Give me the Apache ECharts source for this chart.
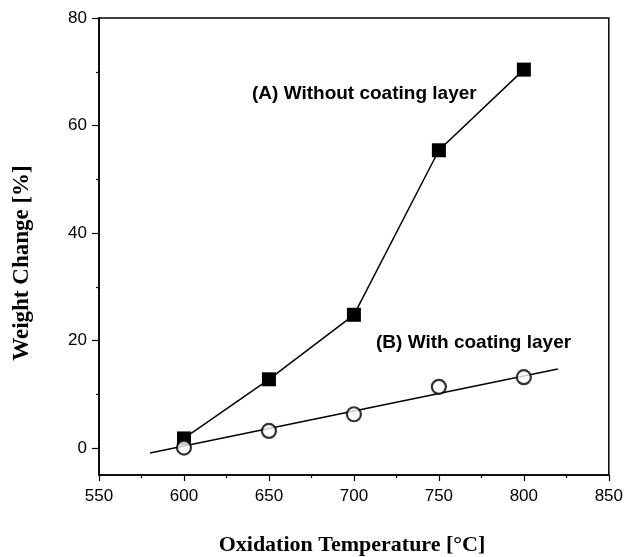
<!DOCTYPE html>
<html>
<head>
<meta charset="utf-8">
<script src="https://cdn.jsdelivr.net/npm/echarts@6/dist/echarts.min.js"></script>
<style>
  html, body { margin: 0; padding: 0; background: #fff; }
  #main { width: 626px; height: 557px; }
</style>
</head>
<body>
<div id="main"></div>
<script>
// oxidation temperatures (°C)
var temps = [600, 650, 700, 750, 800];
// (A) without coating layer, weight change %
var withoutCoating = [1.8, 12.8, 24.8, 55.4, 70.4];
// (B) with coating layer, weight change %
var withCoating = [0.1, 3.2, 6.3, 11.4, 13.2];
// linear fit through (B)
var fitX = [580, 820];
var fitY = [-0.9, 14.7];
var yMajor = [0, 20, 40, 60, 80];
var yMinor = [10, 30, 50, 70];

function pairs(xs, ys) {
    return xs.map(function (x, i) { return [x, ys[i]]; });
}

var chart = echarts.init(document.getElementById('main'));

var labelFont = { color: '#000', fontFamily: 'Liberation Sans, Arial, sans-serif', fontSize: 17 };

var option = {
    animation: false,
    backgroundColor: '#fff',
    grid: {
        left: 99, top: 18, right: 16, bottom: 82,
        show: true, borderColor: '#000', borderWidth: 1.5
    },
    xAxis: {
        type: 'value',
        min: 550, max: 850, interval: 50,
        axisLine: { show: true, onZero: false, lineStyle: { color: '#000', width: 1.5 } },
        axisTick: { show: true, inside: false, length: 6, lineStyle: { color: '#000', width: 1.2 } },
        minorTick: { show: true, splitNumber: 2, length: 3, lineStyle: { color: '#000', width: 1.2 } },
        splitLine: { show: false },
        axisLabel: Object.assign({ margin: 13 }, labelFont)
    },
    yAxis: [
        {
            type: 'value',
            min: -5, max: 80,
            axisLine: { show: true, onZero: false, lineStyle: { color: '#000', width: 1.5 } },
            axisTick: { show: true, inside: false, length: 7, customValues: yMajor, lineStyle: { color: '#000', width: 1.2 } },
            splitLine: { show: false },
            axisLabel: Object.assign({ margin: 12, customValues: yMajor }, labelFont)
        },
        {
            type: 'value',
            position: 'left',
            min: -5, max: 80,
            axisLine: { show: false },
            axisTick: { show: true, inside: false, length: 3, customValues: yMinor, lineStyle: { color: '#000', width: 1.2 } },
            splitLine: { show: false },
            axisLabel: { show: false }
        }
    ],
    series: [
        {
            name: 'fit',
            type: 'line',
            data: pairs(fitX, fitY),
            symbol: 'none',
            lineStyle: { color: '#000', width: 1.5 },
            z: 2
        },
        {
            name: '(A) Without coating layer',
            type: 'line',
            data: pairs(temps, withoutCoating),
            symbol: 'rect',
            symbolSize: 14,
            itemStyle: { color: '#000' },
            lineStyle: { color: '#000', width: 1.5 },
            z: 3
        },
        {
            name: '(B) With coating layer',
            type: 'scatter',
            data: pairs(temps, withCoating),
            symbol: 'circle',
            symbolSize: 14,
            itemStyle: { color: '#fff', borderColor: '#000', borderWidth: 2.2 },
            z: 4
        }
    ],
    graphic: [
        {
            type: 'text', left: 252, top: 84,
            style: { text: '(A) Without coating layer', fill: '#000', font: 'bold 19px "Liberation Sans", Arial, sans-serif' }
        },
        {
            type: 'text', left: 376, top: 333,
            style: { text: '(B) With coating layer', fill: '#000', font: 'bold 19px "Liberation Sans", Arial, sans-serif' }
        },
        {
            type: 'text', x: 352, y: 545,
            style: { text: 'Oxidation Temperature [°C]', fill: '#000', align: 'center', verticalAlign: 'middle',
                font: 'bold 22px "Liberation Serif", "Times New Roman", serif' }
        },
        {
            type: 'text', x: 22, y: 263, rotation: Math.PI / 2,
            style: { text: 'Weight Change [%]', fill: '#000', align: 'center', verticalAlign: 'middle',
                font: 'bold 23px "Liberation Serif", "Times New Roman", serif' }
        }
    ]
};

chart.setOption(option);
</script>
</body>
</html>
